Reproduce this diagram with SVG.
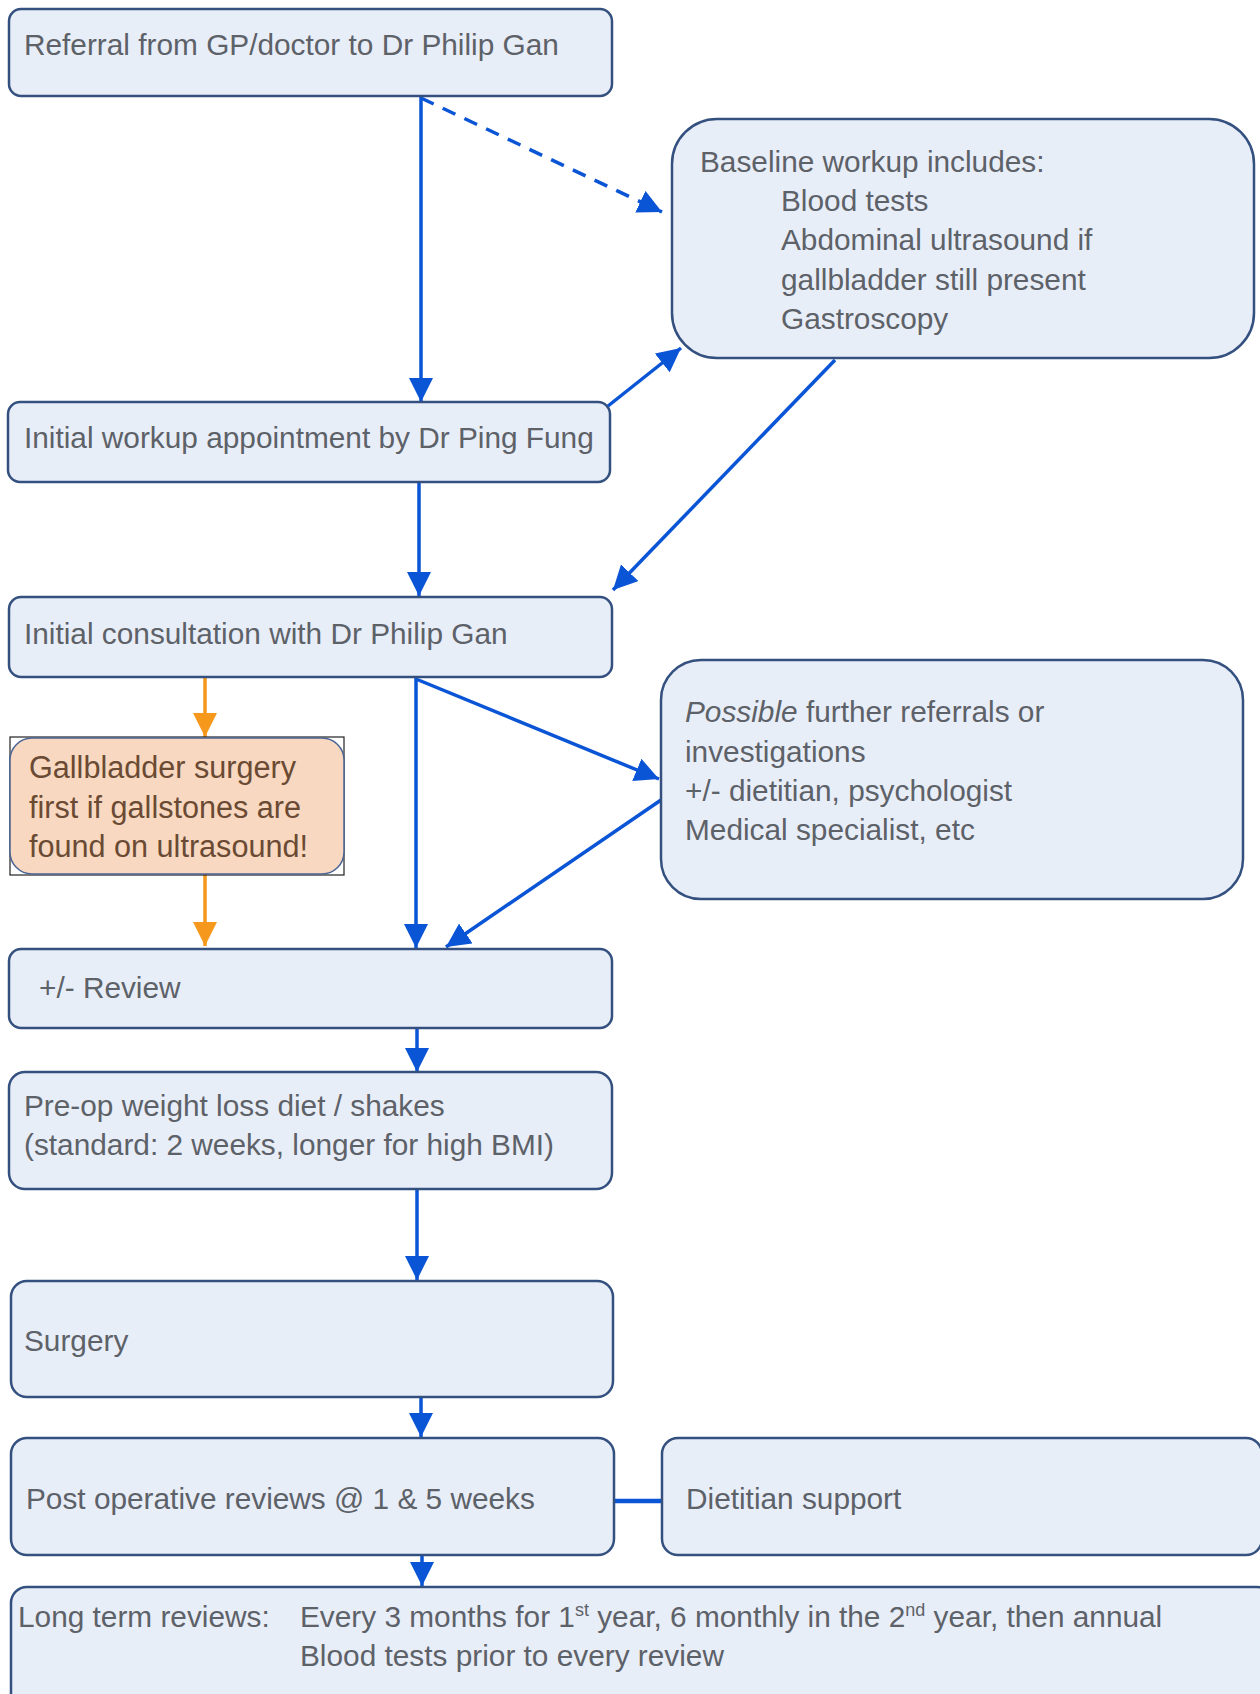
<svg xmlns="http://www.w3.org/2000/svg" width="1260" height="1694" viewBox="0 0 1260 1694">
<defs>
<style>
.box{fill:#e8eef8;stroke:#34507f;stroke-width:2.5}
.t{font-family:"Liberation Sans",Arial,sans-serif;font-size:29.8px;fill:#5d6168}
.tg{font-family:"Liberation Sans",Arial,sans-serif;font-size:30.6px;fill:#6b4a34}
.c{fill:none;stroke:#0a55d6;stroke-width:3.5}
.co{fill:none;stroke:#f5981c;stroke-width:3.5}
</style>
<marker id="ab" markerUnits="userSpaceOnUse" markerWidth="26" markerHeight="24" refX="24" refY="12" orient="auto" viewBox="0 0 26 24"><path d="M0,0 L24,12 L0,24 z" fill="#0a55d6"/></marker>
<marker id="ao" markerUnits="userSpaceOnUse" markerWidth="26" markerHeight="24" refX="24" refY="12" orient="auto" viewBox="0 0 26 24"><path d="M0,0 L24,12 L0,24 z" fill="#f5981c"/></marker>
</defs>
<rect width="1260" height="1694" fill="#ffffff"/>
<g id="connectors">
<line class="c" x1="421" y1="96" x2="421" y2="402" marker-end="url(#ab)"/>
<line class="c" x1="421" y1="98" x2="662" y2="212" stroke-dasharray="14,10" marker-end="url(#ab)"/>
<line class="c" x1="608" y1="406" x2="681" y2="348" marker-end="url(#ab)"/>
<line class="c" x1="835" y1="360" x2="613" y2="590" marker-end="url(#ab)"/>
<line class="c" x1="419" y1="482" x2="419" y2="596" marker-end="url(#ab)"/>
<line class="co" x1="205" y1="677" x2="205" y2="737" marker-end="url(#ao)"/>
<line class="co" x1="205" y1="874" x2="205" y2="946" marker-end="url(#ao)"/>
<line class="c" x1="416" y1="677" x2="416" y2="948" marker-end="url(#ab)"/>
<line class="c" x1="416" y1="679" x2="659" y2="779" marker-end="url(#ab)"/>
<line class="c" x1="661" y1="800" x2="446" y2="947" marker-end="url(#ab)"/>
<line class="c" x1="417" y1="1028" x2="417" y2="1072" marker-end="url(#ab)"/>
<line class="c" x1="417" y1="1189" x2="417" y2="1280" marker-end="url(#ab)"/>
<line class="c" x1="421" y1="1397" x2="421" y2="1437" marker-end="url(#ab)"/>
<line class="c" x1="614" y1="1501" x2="661" y2="1501" style="stroke-width:4.5"/>
<line class="c" x1="422" y1="1555" x2="422" y2="1586" marker-end="url(#ab)"/>
</g>
<g id="referral">
<rect class="box" x="9" y="9" width="603" height="87" rx="12"/>
<text class="t" x="24" y="55">Referral from GP/doctor to Dr Philip Gan</text>
</g>
<g id="baseline">
<rect class="box" x="672" y="119" width="582" height="239" rx="45"/>
<text class="t" x="700" y="172">Baseline workup includes:</text>
<text class="t" x="781" y="211">Blood tests</text>
<text class="t" x="781" y="250">Abdominal ultrasound if</text>
<text class="t" x="781" y="290">gallbladder still present</text>
<text class="t" x="781" y="329">Gastroscopy</text>
</g>
<g id="workup">
<rect class="box" x="8" y="402" width="602" height="80" rx="12"/>
<text class="t" x="24" y="448">Initial workup appointment by Dr Ping Fung</text>
</g>
<g id="consultation">
<rect class="box" x="9" y="597" width="603" height="80" rx="12"/>
<text class="t" x="24" y="644">Initial consultation with Dr Philip Gan</text>
</g>
<g id="gallbladder">
<rect x="10" y="737" width="334" height="138" fill="none" stroke="#222222" stroke-width="1.2"/>
<rect x="10" y="738" width="334" height="136" rx="22" fill="#f8d8c0" stroke="#4a6494" stroke-width="1.5"/>
<text class="tg" x="29" y="778">Gallbladder surgery</text>
<text class="tg" x="29" y="818">first if gallstones are</text>
<text class="tg" x="29" y="857">found on ultrasound!</text>
</g>
<g id="possible">
<rect class="box" x="661" y="660" width="582" height="239" rx="40"/>
<text class="t" x="685" y="722"><tspan font-style="italic">Possible</tspan> further referrals or</text>
<text class="t" x="685" y="762">investigations</text>
<text class="t" x="685" y="801">+/- dietitian, psychologist</text>
<text class="t" x="685" y="840">Medical specialist, etc</text>
</g>
<g id="review">
<rect class="box" x="9" y="949" width="603" height="79" rx="12"/>
<text class="t" x="39" y="998">+/- Review</text>
</g>
<g id="preop">
<rect class="box" x="9" y="1072" width="603" height="117" rx="16"/>
<text class="t" x="24" y="1116">Pre-op weight loss diet / shakes</text>
<text class="t" x="24" y="1155">(standard: 2 weeks, longer for high BMI)</text>
</g>
<g id="surgery">
<rect class="box" x="11" y="1281" width="602" height="116" rx="16"/>
<text class="t" x="24" y="1351">Surgery</text>
</g>
<g id="postop">
<rect class="box" x="11" y="1438" width="603" height="117" rx="16"/>
<text class="t" x="26" y="1509">Post operative reviews @ 1 &amp; 5 weeks</text>
</g>
<g id="dietitian">
<rect class="box" x="662" y="1438" width="600" height="117" rx="16"/>
<text class="t" x="686" y="1509">Dietitian support</text>
</g>
<g id="longterm">
<rect class="box" x="11" y="1587" width="1262" height="130" rx="16"/>
<text class="t" x="18" y="1627">Long term reviews:</text>
<text class="t" x="300" y="1627">Every 3 months for 1<tspan font-size="18" dy="-11">st</tspan><tspan dy="11"> year, 6 monthly in the 2</tspan><tspan font-size="18" dy="-11">nd</tspan><tspan dy="11"> year, then annual</tspan></text>
<text class="t" x="300" y="1666">Blood tests prior to every review</text>
</g>
</svg>
